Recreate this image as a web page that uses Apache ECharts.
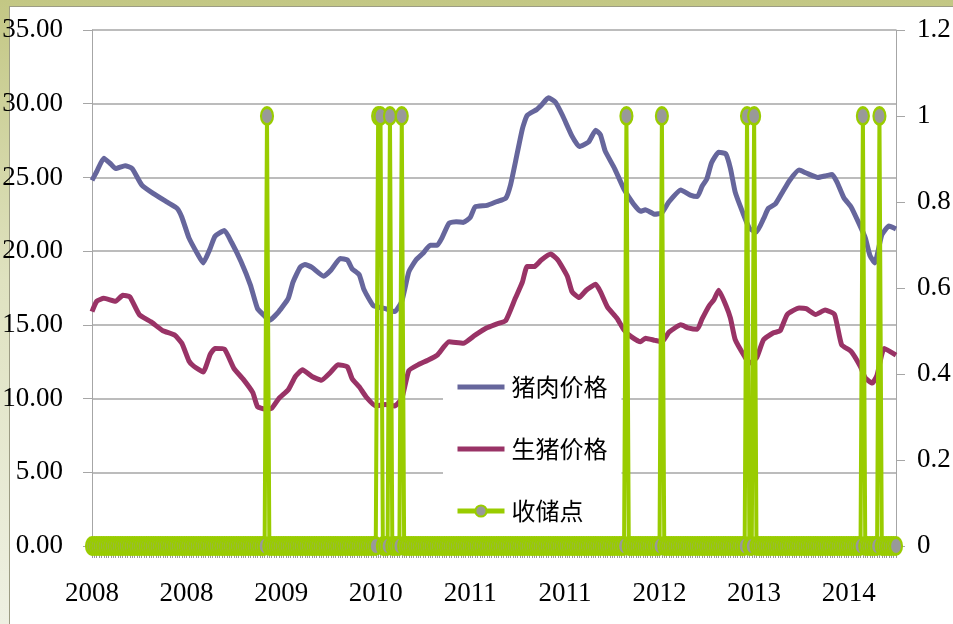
<!DOCTYPE html>
<html>
<head>
<meta charset="utf-8">
<script src="https://cdn.jsdelivr.net/npm/echarts@6/dist/echarts.min.js"></script>
<style>
  html, body { margin: 0; padding: 0; }
  body {
    width: 953px; height: 624px; overflow: hidden; position: relative;
    background: linear-gradient(to bottom, #c3c784, #dfe2c0 45%, #eef0e2);
  }
  .panel {
    position: absolute; left: 9px; top: 6px; right: 0; bottom: 0;
    background: #fff; border-left: 1px solid #9c9c84; border-top: 1px solid #9c9c84;
  }
  #main { position: absolute; left: 0; top: 0; width: 953px; height: 624px; }
</style>
</head>
<body>
<div class="panel"></div>
<div id="main"></div>
<script>
// 周序号（0 = 2008年初），刻度每40周一个标签
const tickYears = ['2008', '2008', '2009', '2010', '2011', '2011', '2012', '2013', '2014'];
const weekCount = 341;

// 猪肉价格 [周, 元/公斤]
const porkPrice = [
  [0, 24.8], [2, 25.4], [5, 26.3], [8, 25.9], [10, 25.6], [14, 25.8], [17, 25.6], [21, 24.5],
  [26, 23.9], [32, 23.3], [36, 22.9], [38, 22.3], [41, 20.9], [45, 19.7], [47, 19.2], [50, 20.2],
  [52, 21.0], [56, 21.4], [59, 20.6], [63, 19.3], [67, 17.7], [70, 16.1], [73, 15.6], [75, 15.3],
  [79, 15.9], [83, 16.8], [85, 17.9], [88, 18.9], [90, 19.1], [93, 18.9], [98, 18.3], [101, 18.7],
  [105, 19.5], [108, 19.4], [110, 18.8], [113, 18.4], [115, 17.4], [119, 16.3], [124, 16.1], [128, 15.9],
  [131, 16.6], [134, 18.6], [137, 19.4], [140, 19.85], [143, 20.4], [146, 20.4], [148, 20.9], [151, 21.9],
  [154, 22.0], [157, 21.95], [160, 22.3], [162, 23.0], [167, 23.1], [171, 23.35], [175, 23.6], [177, 24.5],
  [179, 26.0], [182, 28.3], [184, 29.2], [188, 29.6], [190, 29.9], [193, 30.4], [196, 30.1], [199, 29.2],
  [203, 27.8], [206, 27.1], [210, 27.4], [213, 28.2], [215, 27.9], [217, 26.8], [221, 25.6], [225, 24.2],
  [229, 23.2], [232, 22.7], [234, 22.8], [238, 22.5], [241, 22.6], [244, 23.35], [249, 24.15], [253, 23.8],
  [256, 23.7], [258, 24.4], [260, 24.9], [262, 26.0], [265, 26.7], [268, 26.6], [270, 25.6], [272, 24.0],
  [275, 22.7], [278, 21.55], [281, 21.3], [284, 22.2], [286, 22.9], [289, 23.2], [292, 24.0], [295, 24.8],
  [299, 25.5], [302, 25.3], [307, 25.0], [310, 25.1], [313, 25.2], [315, 24.7], [318, 23.6], [321, 23.0],
  [324, 22.0], [327, 20.9], [329, 19.7], [331, 19.2], [334, 21.1], [337, 21.7], [340, 21.5]
];

// 生猪价格 [周, 元/公斤]
const hogPrice = [
  [0, 15.9], [2, 16.6], [5, 16.8], [10, 16.6], [13, 17.0], [16, 16.9], [20, 15.7], [25, 15.2],
  [30, 14.6], [35, 14.3], [38, 13.75], [41, 12.55], [43, 12.2], [47, 11.8], [50, 13.0], [52, 13.4],
  [56, 13.35], [60, 12.05], [64, 11.3], [68, 10.4], [70, 9.45], [73, 9.3], [76, 9.35], [79, 10.0],
  [83, 10.6], [86, 11.5], [89, 11.95], [93, 11.5], [97, 11.25], [101, 11.8], [104, 12.3], [108, 12.15],
  [110, 11.35], [113, 10.8], [116, 10.1], [120, 9.5], [124, 9.6], [128, 9.5], [131, 10.0], [134, 11.9],
  [138, 12.3], [142, 12.6], [146, 12.95], [151, 13.85], [157, 13.75], [162, 14.3], [167, 14.8], [171, 15.05],
  [175, 15.3], [179, 16.8], [182, 17.9], [184, 18.95], [187, 18.95], [190, 19.4], [194, 19.8], [197, 19.4],
  [201, 18.3], [203, 17.25], [206, 16.85], [209, 17.35], [213, 17.75], [215, 17.25], [218, 16.2], [222, 15.45],
  [225, 14.65], [228, 14.2], [232, 13.85], [234, 14.1], [238, 13.95], [241, 13.85], [244, 14.5], [249, 15.0],
  [252, 14.8], [256, 14.7], [258, 15.4], [261, 16.3], [263, 16.7], [265, 17.35], [268, 16.35], [270, 15.45],
  [272, 14.0], [276, 12.85], [278, 12.4], [281, 12.75], [284, 14.0], [288, 14.45], [291, 14.6], [294, 15.7],
  [299, 16.15], [302, 16.1], [306, 15.7], [310, 16.0], [314, 15.7], [317, 13.65], [321, 13.2], [325, 12.15],
  [327, 11.4], [330, 11.05], [332, 11.6], [335, 13.4], [340, 12.95]
];

// 收储点所在的周
const storageWeeks = [74, 121, 122, 126, 131, 226, 241, 277, 280, 326, 333];

const storageData = [];
for (let i = 0; i < weekCount; i++) {
  storageData.push([i, storageWeeks.includes(i) ? 1 : 0]);
}

const chart = echarts.init(document.getElementById('main'));
const axisFont = { fontFamily: 'Liberation Serif', fontSize: 27, color: '#000' };
// 图例中的粗线
const barIcon = 'path://M0,0 L47,0 L47,5 L0,5 Z';

const option = {
  animation: false,
  backgroundColor: 'transparent',
  grid: { left: 92, right: 57, top: 30, bottom: 78, outerBoundsMode: 'none' },
  legend: {
    orient: 'vertical',
    left: 443,
    top: 362,
    backgroundColor: '#fff',
    padding: [13, 14, 8, 12],
    itemWidth: 47,
    itemHeight: 14,
    itemGap: 38,
    lineStyle: { width: 5 },
    textStyle: { fontFamily: 'Noto Sans CJK SC', fontSize: 24, color: '#000', padding: [0, 0, 0, 2] },
    data: [
      { name: '猪肉价格', icon: barIcon },
      { name: '生猪价格', icon: barIcon },
      { name: '收储点' }
    ]
  },
  xAxis: {
    type: 'value',
    min: 0,
    max: weekCount - 1,
    interval: 20,
    splitLine: { show: false },
    axisLine: { show: true, lineStyle: { color: '#999' } },
    axisTick: { show: true, length: 12, lineStyle: { color: '#999' } },
    minorTick: { show: true, splitNumber: 20, length: 12, lineStyle: { color: '#999' } },
    axisLabel: Object.assign({
      margin: 34,
      showMaxLabel: false,
      formatter: v => (v % 40 === 0 ? tickYears[v / 40] : '')
    }, axisFont)
  },
  yAxis: [
    {
      type: 'value',
      min: 0,
      max: 35,
      interval: 5,
      axisLine: { show: true, lineStyle: { color: '#a6a6a6' } },
      axisTick: { show: true, length: 9, lineStyle: { color: '#a6a6a6' } },
      splitLine: { lineStyle: { color: '#a6a6a6', width: 1.5 } },
      axisLabel: Object.assign({ margin: 29, formatter: v => v.toFixed(2) }, axisFont)
    },
    {
      type: 'value',
      min: 0,
      max: 1.2,
      interval: 0.2,
      axisLine: { show: true, lineStyle: { color: '#a6a6a6' } },
      axisTick: { show: true, length: 9, lineStyle: { color: '#a6a6a6' } },
      splitLine: { show: false },
      axisLabel: Object.assign({ margin: 21 }, axisFont)
    }
  ],
  series: [
    {
      name: '猪肉价格',
      type: 'line',
      data: porkPrice,
      symbol: 'none',
      smooth: 0.15,
      itemStyle: { color: '#66669c' },
      lineStyle: { color: '#66669c', width: 5 },
      z: 2
    },
    {
      name: '生猪价格',
      type: 'line',
      data: hogPrice,
      symbol: 'none',
      smooth: 0.15,
      itemStyle: { color: '#993366' },
      lineStyle: { color: '#993366', width: 5 },
      z: 2
    },
    {
      name: '收储点',
      type: 'line',
      yAxisIndex: 1,
      data: storageData,
      symbol: 'circle',
      symbolSize: [12, 17],
      showSymbol: true,
      showAllSymbol: true,
      itemStyle: { color: '#999', borderColor: '#99cc00', borderWidth: 2.5 },
      lineStyle: { color: '#99cc00', width: 4 },
      z: 3
    }
  ]
};

chart.setOption(option);
</script>
</body>
</html>
